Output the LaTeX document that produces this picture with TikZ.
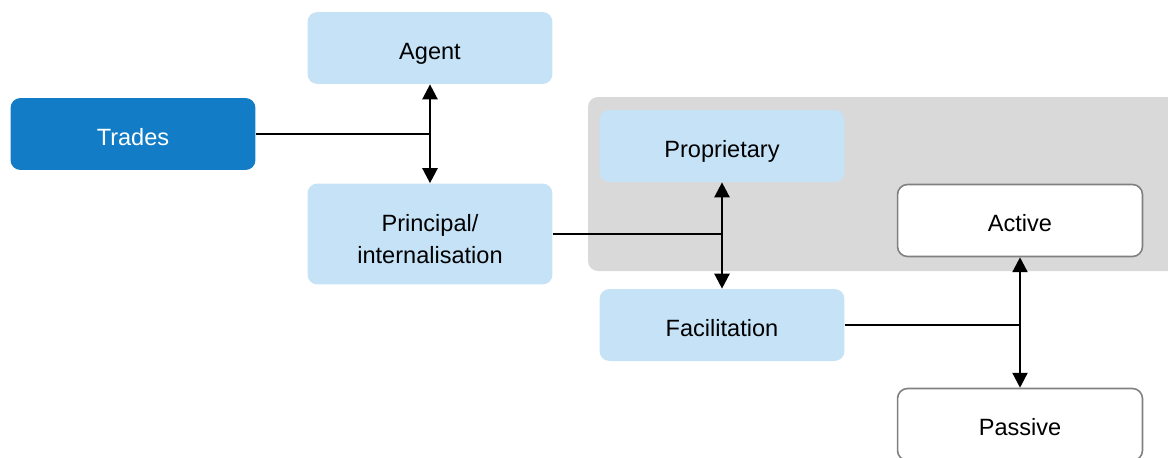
\documentclass[tikz,border=0pt]{standalone}
\usepackage{fontspec}
\setmainfont{Liberation Sans}
\usetikzlibrary{arrows.meta, positioning, calc}
\definecolor{tradeblue}{HTML}{127DC6}
\definecolor{paleblue}{HTML}{C5E2F7}
\definecolor{groupgrey}{HTML}{D9D9D9}
\definecolor{edgegrey}{HTML}{808080}
\tikzset{
    box/.style ={rectangle, rounded corners=0.2cm, minimum width=4.9cm,
                 minimum height=1.44cm, align=center, inner sep=2pt,
                 text height=0.44cm, text depth=0pt,
                 font=\fontsize{13.4}{17.9}\selectfont},
    main/.style ={box, fill=tradeblue, text=white},
    sub/.style ={box, fill=paleblue, text=black},
    leaf/.style ={box, fill=white, draw=edgegrey, line width=0.9pt},
    link/.style ={line width=1.4pt, black},
    both/.style ={link, {Triangle[width=8.5pt,length=8.5pt]}-{Triangle[width=8.5pt,length=8.5pt]}}
    }

\begin{document}
\begin{tikzpicture}[x=0.02cm, y=-0.02cm]
    \useasboundingbox (0,0) rectangle (1168,457);

    % grey group behind proprietary / active
    \fill[groupgrey, rounded corners=0.2cm] (588,97) rectangle (1180,271);

    \node[main] (trades) at (133,134) {Trades};
    \node[sub] (agent) at (430,48) {Agent};
    \node[sub, minimum height=2.02cm, text height=1.16cm] (principal) at (430,234) {Principal/\\internalisation};
    \node[sub] (proprietary) at (722,146) {Proprietary};
    \node[sub] (facilitation) at (722,325) {Facilitation};
    \node[leaf] (active) at (1020,220.5) {Active};
    \node[leaf] (passive) at (1020,424.5) {Passive};

    \draw[link] (trades.east) -- (trades.east -| agent.south);
    \draw[both] (agent.south) -- (principal.north);

    \draw[link] (principal.east) -- (principal.east -| proprietary.south);
    \draw[both] (proprietary.south) -- (facilitation.north);

    \draw[link] (facilitation.east) -- (facilitation.east -| active.south);
    \draw[both] (active.south) -- (passive.north);

\end{tikzpicture}
\end{document}
